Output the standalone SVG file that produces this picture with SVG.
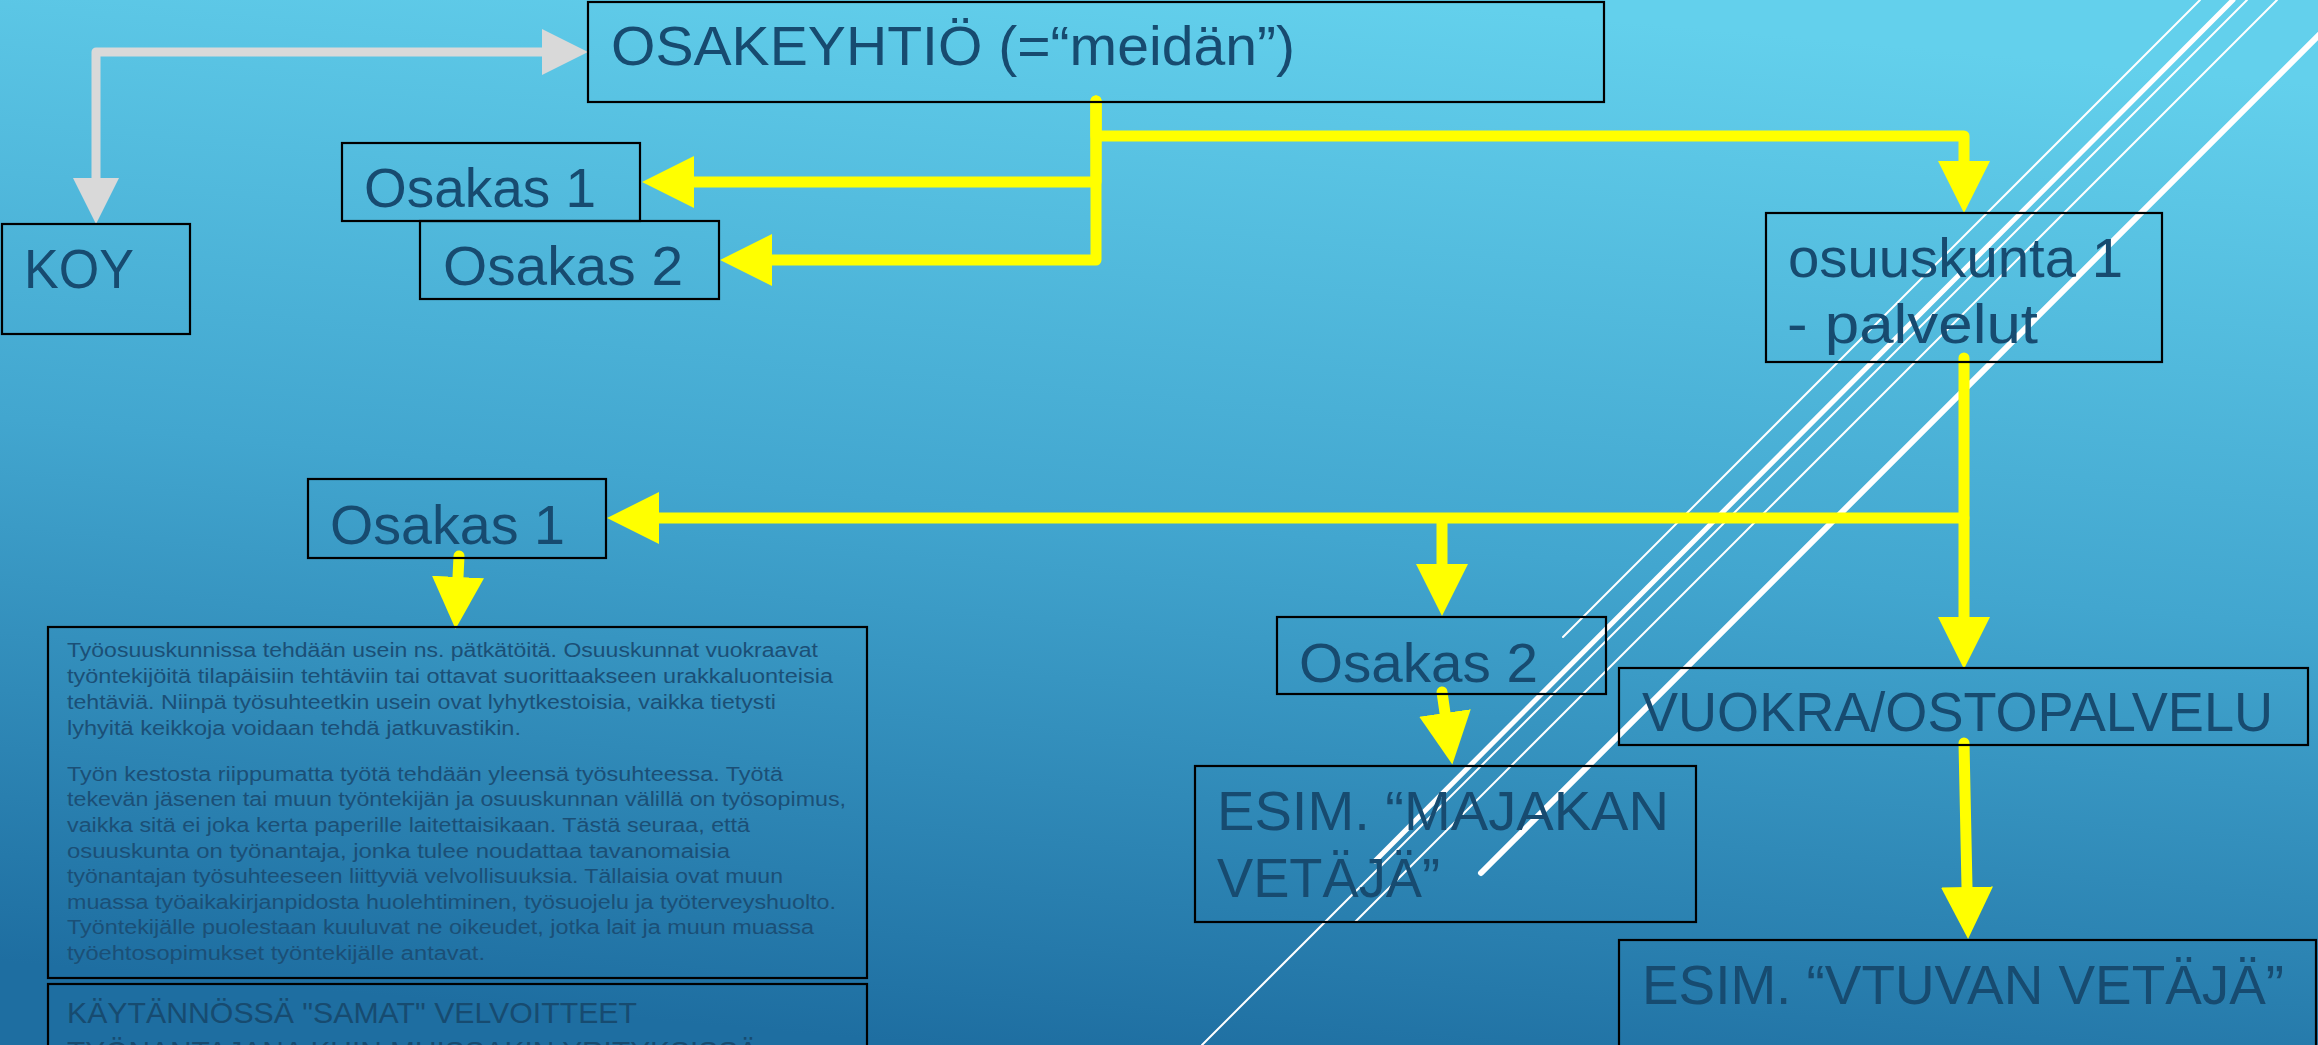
<svg xmlns="http://www.w3.org/2000/svg" width="2318" height="1045" viewBox="0 0 2318 1045">
<defs>
<linearGradient id="bg" x1="0.6" y1="0" x2="0.4" y2="1">
<stop offset="0" stop-color="#63d0ec"/>
<stop offset="0.5" stop-color="#42a6cf"/>
<stop offset="1" stop-color="#1e6ea1"/>
</linearGradient>
<marker id="ay" markerUnits="userSpaceOnUse" markerWidth="54" markerHeight="54" refX="0" refY="26" orient="auto-start-reverse" viewBox="0 0 54 52"><path d="M0,0 L52,26 L0,52 Z" fill="#ffff00"/></marker>
<marker id="ag" markerUnits="userSpaceOnUse" markerWidth="48" markerHeight="48" refX="0" refY="23" orient="auto-start-reverse" viewBox="0 0 48 46"><path d="M0,0 L46,23 L0,46 Z" fill="#d9d9d9"/></marker>
<style>
.box{fill:none;stroke:#000;stroke-width:2.2}
.t{font-family:"Liberation Sans",Arial,sans-serif;font-weight:normal;fill:#174b70}
.big{font-size:56px}
.sm{font-size:20px;fill:#1b4f76}
.mid{font-size:30px}
.y{fill:none;stroke:#ffff00;stroke-width:11;stroke-linejoin:round;stroke-linecap:round;marker-end:url(#ay)}
.g{fill:none;stroke:#d9d9d9;stroke-width:9;stroke-linejoin:round;marker-start:url(#ag);marker-end:url(#ag)}
.w{stroke:#ffffff;fill:none;stroke-linecap:round}
</style>
</defs>
<rect x="0" y="0" width="2318" height="1045" fill="url(#bg)"/>
<g id="decor">
<line class="w" x1="2200" y1="0" x2="1563" y2="637" stroke-width="2"/>
<line class="w" x1="2233" y1="0" x2="1375" y2="861" stroke-width="5"/>
<line class="w" x1="2247" y1="0" x2="1202" y2="1045" stroke-width="2"/>
<line class="w" x1="2277" y1="0" x2="1355" y2="922" stroke-width="2"/>
<line class="w" x1="2354" y1="0" x2="1481" y2="873" stroke-width="6"/>
</g>
<g id="connectors">
<path class="g" d="M96,178 V52 H542"/>
<path class="y" d="M1096,101 V136 H1964 V161"/>
<path class="y" d="M1096,101 V182 H694"/>
<path class="y" d="M1096,101 V260 H772"/>
<path class="y" d="M1964,358 V518 H659"/>
<path class="y" d="M1442,520 V564"/>
<path class="y" d="M1964,518 V617"/>
<path class="y" d="M459,556 L458,577"/>
<path class="y" d="M1442,692 L1445,713"/>
<path class="y" d="M1964,743 L1967,887"/>
</g>
<g id="osakeyhtio">
<rect class="box" x="588" y="2" width="1016" height="100"/>
<text class="t big" x="611" y="65" textLength="684" lengthAdjust="spacingAndGlyphs">OSAKEYHTIÖ (=“meidän”)</text>
</g>
<g id="koy">
<rect class="box" x="2" y="224" width="188" height="110"/>
<text class="t big" x="24" y="288" textLength="110" lengthAdjust="spacingAndGlyphs">KOY</text>
</g>
<g id="osakas1-top">
<rect class="box" x="342" y="143" width="298" height="78"/>
<text class="t big" x="364" y="207" textLength="232" lengthAdjust="spacingAndGlyphs">Osakas 1</text>
</g>
<g id="osakas2-top">
<rect class="box" x="420" y="221" width="299" height="78"/>
<text class="t big" x="443" y="285" textLength="240" lengthAdjust="spacingAndGlyphs">Osakas 2</text>
</g>
<g id="osuuskunta">
<rect class="box" x="1766" y="213" width="396" height="149"/>
<text class="t big" x="1788" y="277" textLength="335" lengthAdjust="spacingAndGlyphs">osuuskunta 1</text>
<text class="t big" x="1787" y="343" textLength="251" lengthAdjust="spacingAndGlyphs">- palvelut</text>
</g>
<g id="osakas1-low">
<rect class="box" x="308" y="479" width="298" height="79"/>
<text class="t big" x="330" y="544" textLength="235" lengthAdjust="spacingAndGlyphs">Osakas 1</text>
</g>
<g id="osakas2-low">
<rect class="box" x="1277" y="617" width="329" height="77"/>
<text class="t big" x="1299" y="682" textLength="239" lengthAdjust="spacingAndGlyphs">Osakas 2</text>
</g>
<g id="majakan">
<rect class="box" x="1195" y="766" width="501" height="156"/>
<text class="t big" x="1217" y="830" textLength="452" lengthAdjust="spacingAndGlyphs">ESIM. “MAJAKAN</text>
<text class="t big" x="1217" y="897" textLength="223" lengthAdjust="spacingAndGlyphs">VETÄJÄ”</text>
</g>
<g id="vuokra">
<rect class="box" x="1619" y="668" width="689" height="77"/>
<text class="t big" x="1642" y="731" textLength="631" lengthAdjust="spacingAndGlyphs">VUOKRA/OSTOPALVELU</text>
</g>
<g id="vtuvan">
<rect class="box" x="1619" y="940" width="697" height="115"/>
<text class="t big" x="1642" y="1004" textLength="642" lengthAdjust="spacingAndGlyphs">ESIM. “VTUVAN VETÄJÄ”</text>
</g>
<g id="info">
<rect class="box" x="48" y="627" width="819" height="351"/>
<text class="t sm" x="67" y="657" textLength="751" lengthAdjust="spacingAndGlyphs">Työosuuskunnissa tehdään usein ns. pätkätöitä. Osuuskunnat vuokraavat</text>
<text class="t sm" x="67" y="683" textLength="766" lengthAdjust="spacingAndGlyphs">työntekijöitä tilapäisiin tehtäviin tai ottavat suorittaakseen urakkaluonteisia</text>
<text class="t sm" x="67" y="709" textLength="709" lengthAdjust="spacingAndGlyphs">tehtäviä. Niinpä työsuhteetkin usein ovat lyhytkestoisia, vaikka tietysti</text>
<text class="t sm" x="67" y="735" textLength="454" lengthAdjust="spacingAndGlyphs">lyhyitä keikkoja voidaan tehdä jatkuvastikin.</text>
<text class="t sm" x="67" y="781" textLength="716" lengthAdjust="spacingAndGlyphs">Työn kestosta riippumatta työtä tehdään yleensä työsuhteessa. Työtä</text>
<text class="t sm" x="67" y="806" textLength="779" lengthAdjust="spacingAndGlyphs">tekevän jäsenen tai muun työntekijän ja osuuskunnan välillä on työsopimus,</text>
<text class="t sm" x="67" y="832" textLength="683" lengthAdjust="spacingAndGlyphs">vaikka sitä ei joka kerta paperille laitettaisikaan. Tästä seuraa, että</text>
<text class="t sm" x="67" y="858" textLength="663" lengthAdjust="spacingAndGlyphs">osuuskunta on työnantaja, jonka tulee noudattaa tavanomaisia</text>
<text class="t sm" x="67" y="883" textLength="716" lengthAdjust="spacingAndGlyphs">työnantajan työsuhteeseen liittyviä velvollisuuksia. Tällaisia ovat muun</text>
<text class="t sm" x="67" y="909" textLength="769" lengthAdjust="spacingAndGlyphs">muassa työaikakirjanpidosta huolehtiminen, työsuojelu ja työterveyshuolto.</text>
<text class="t sm" x="67" y="934" textLength="747" lengthAdjust="spacingAndGlyphs">Työntekijälle puolestaan kuuluvat ne oikeudet, jotka lait ja muun muassa</text>
<text class="t sm" x="67" y="960" textLength="418" lengthAdjust="spacingAndGlyphs">työehtosopimukset työntekijälle antavat.</text>
</g>
<g id="kaytannossa">
<rect class="box" x="48" y="984" width="819" height="80"/>
<text class="t mid" x="67" y="1023" textLength="570" lengthAdjust="spacingAndGlyphs">KÄYTÄNNÖSSÄ "SAMAT" VELVOITTEET</text>
<text class="t mid" x="67" y="1062" textLength="691" lengthAdjust="spacingAndGlyphs">TYÖNANTAJANA KUIN MUISSAKIN YRITYKSISSÄ</text>
</g>
</svg>
